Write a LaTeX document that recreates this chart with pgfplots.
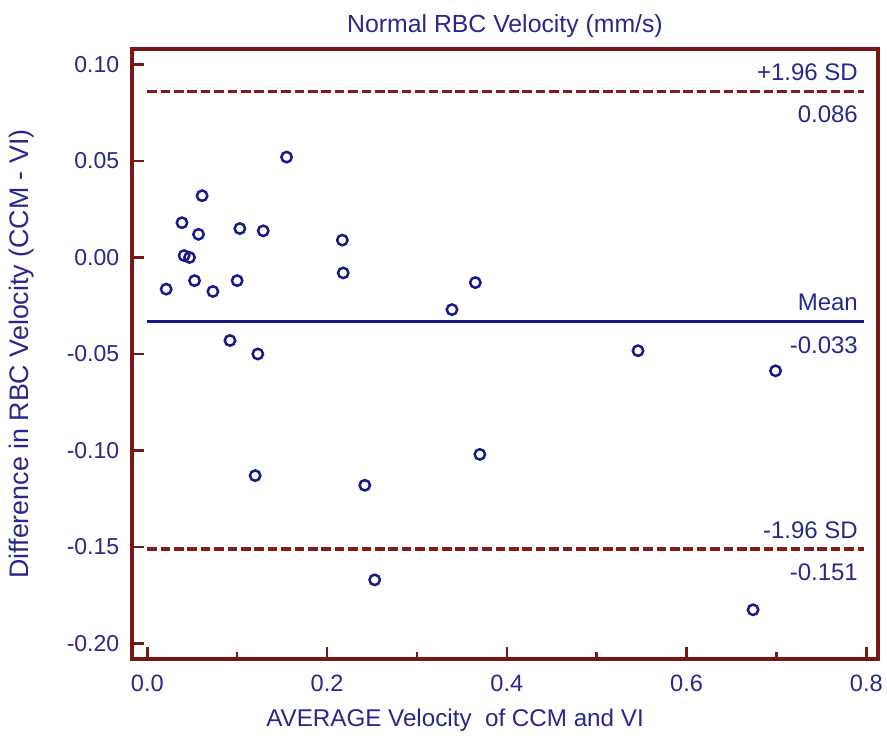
\documentclass[border=0pt]{standalone}
\usepackage{pgfplots}
\pgfplotsset{compat=1.18}
\usepackage{fontspec}
\setmainfont{Liberation Sans}
\definecolor{txtblue}{RGB}{40,40,140}
\definecolor{mkblue}{RGB}{25,25,135}
\definecolor{axred}{RGB}{118,22,22}
\definecolor{dashred}{RGB}{135,25,25}
\begin{document}
\fontsize{12}{14}\selectfont
\begin{tikzpicture}
\begin{axis}[
  scale only axis, width=373pt, height=305pt,
  xmin=-0.017, xmax=0.813, ymin=-0.208, ymax=0.108,
  axis line style={axred, line width=1.8pt},
  every tick/.style={axred, line width=1.3pt},
  tick align=inside,
  xtick pos=left, ytick pos=left,
  major tick length=6pt, minor tick length=3.5pt,
  xtick={0,0.2,0.4,0.6,0.8},
  minor xtick={0.1,0.3,0.5,0.7},
  ytick={-0.2,-0.15,-0.1,-0.05,0,0.05,0.1},
  /pgf/number format/assume math mode=true,
  xticklabel style={/pgf/number format/.cd, fixed, fixed zerofill, precision=1, /tikz/.cd, text=txtblue, font=\fontsize{11.8}{14}\selectfont, yshift=-4pt},
  yticklabel style={/pgf/number format/.cd, fixed, fixed zerofill, precision=2, /tikz/.cd, text=txtblue, font=\fontsize{11.5}{14}\selectfont, xshift=-2.2pt},
  clip=false,
]
\addplot[dashred, line width=1.7pt, dash pattern=on 4.8pt off 1.9pt] coordinates {(0,0.086) (0.797,0.086)};
\addplot[dashred, line width=1.7pt, dash pattern=on 4.8pt off 1.9pt] coordinates {(0,-0.151) (0.797,-0.151)};
\addplot[mkblue, line width=1.6pt] coordinates {(0,-0.033) (0.797,-0.033)};
\addplot[only marks, mark=o, mark size=2.6pt, mark options={mkblue, line width=1.25pt}] coordinates {
(0.021,-0.0164) (0.0386,0.018) (0.041,0.001) (0.047,0.000) (0.0526,-0.012)
(0.057,0.012) (0.061,0.032) (0.073,-0.0176) (0.092,-0.043) (0.100,-0.012)
(0.103,0.015) (0.123,-0.050) (0.120,-0.113) (0.129,0.0138) (0.155,0.052)
(0.217,0.009) (0.218,-0.008) (0.242,-0.118) (0.253,-0.167) (0.339,-0.027)
(0.365,-0.013) (0.370,-0.102) (0.546,-0.0483) (0.674,-0.1825) (0.699,-0.0587)
};
\node[txtblue, anchor=south east, inner sep=0pt, yshift=5pt] at (axis cs:0.791,0.086) {+1.96 SD};
\node[txtblue, anchor=north east, inner sep=0pt, yshift=-7pt] at (axis cs:0.791,0.086) {0.086};
\node[txtblue, anchor=south east, inner sep=0pt, yshift=5pt] at (axis cs:0.791,-0.033) {Mean};
\node[txtblue, anchor=north east, inner sep=0pt, yshift=-7.5pt] at (axis cs:0.791,-0.033) {-0.033};
\node[txtblue, anchor=south east, inner sep=0pt, yshift=5pt] at (axis cs:0.791,-0.151) {-1.96 SD};
\node[txtblue, anchor=north east, inner sep=0pt, yshift=-7pt] at (axis cs:0.791,-0.151) {-0.151};
\node[txtblue, anchor=base, inner sep=0pt, yshift=8pt, font=\fontsize{12.4}{14}\selectfont] at (rel axis cs:0.5,1) {Normal RBC Velocity (mm/s)};
\node[txtblue, anchor=center, inner sep=0pt, yshift=-30.5pt, font=\fontsize{12.1}{14}\selectfont] at (rel axis cs:0.433,0) {AVERAGE Velocity\ \ of CCM and VI};
\node[txtblue, anchor=center, inner sep=0pt, rotate=90, font=\fontsize{13.4}{15}\selectfont] at ([xshift=-55pt]rel axis cs:0,0.5) {Difference in RBC Velocity (CCM - VI)};
\coordinate (sw) at (rel axis cs:0,0);
\coordinate (ne) at (rel axis cs:1,1);
\end{axis}
\pgfresetboundingbox
\path[use as bounding box] ([shift={(-66pt,-39.5pt)}]sw) rectangle ([shift={(4.5pt,24.5pt)}]ne);
\end{tikzpicture}
\end{document}
